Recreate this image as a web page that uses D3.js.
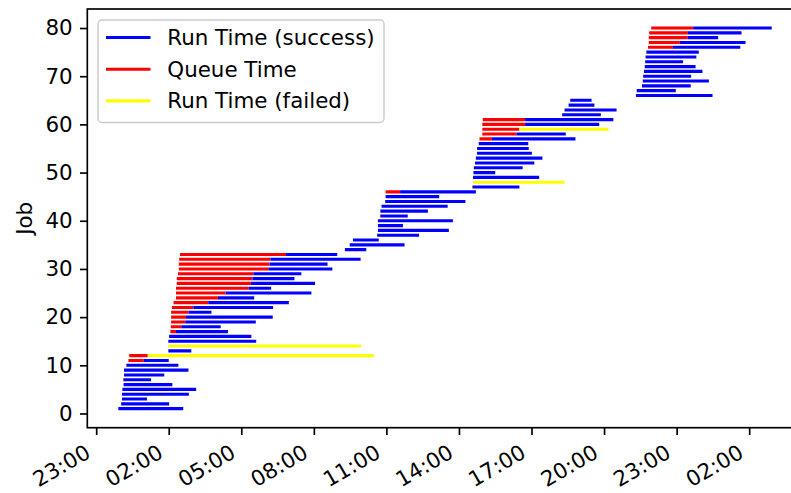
<!DOCTYPE html>
<html>
<head>
<meta charset="utf-8">
<script src="https://cdn.jsdelivr.net/npm/d3@7"></script>
<style>
  body { margin: 0; background: #fff; }
  svg text { font-family: "DejaVu Sans", sans-serif; fill: #000; }
</style>
</head>
<body>
<script>
// job numbers 1..80, times ("month-day hour:minute")
var jobs = d3.range(1, 81);

var queueStart = [
  "03-01 23:55","03-02 00:02","03-02 00:04","03-02 00:04","03-02 00:05","03-02 00:08","03-02 00:07","03-02 00:09","03-02 00:09","03-02 00:15",
  "03-02 00:20","03-02 00:22","03-02 01:59","03-02 01:59","03-02 01:59","03-02 02:01","03-02 02:04","03-02 02:05","03-02 02:06","03-02 02:06",
  "03-02 02:06","03-02 02:08","03-02 02:12","03-02 02:18","03-02 02:18","03-02 02:18","03-02 02:20","03-02 02:20","03-02 02:23","03-02 02:25",
  "03-02 02:25","03-02 02:26","03-02 02:28","03-02 09:17","03-02 09:29","03-02 09:37","03-02 10:37","03-02 10:39","03-02 10:39","03-02 10:39",
  "03-02 10:44","03-02 10:45","03-02 10:48","03-02 10:57","03-02 10:58","03-02 10:58","03-02 14:33","03-02 14:35","03-02 14:35","03-02 14:36",
  "03-02 14:37","03-02 14:40","03-02 14:42","03-02 14:45","03-02 14:45","03-02 14:49","03-02 14:51","03-02 14:58","03-02 14:58","03-02 14:58",
  "03-02 14:59","03-02 18:16","03-02 18:22","03-02 18:32","03-02 18:36","03-02 21:19","03-02 21:21","03-02 21:34","03-02 21:36","03-02 21:37",
  "03-02 21:39","03-02 21:41","03-02 21:42","03-02 21:43","03-02 21:45","03-02 21:49","03-02 21:51","03-02 21:51","03-02 21:52","03-02 21:57"
];

var runStart = [
  "03-01 23:55","03-02 00:02","03-02 00:04","03-02 00:04","03-02 00:05","03-02 00:08","03-02 00:09","03-02 00:09","03-02 00:09","03-02 00:15",
  "03-02 00:58","03-02 01:08","03-02 01:59","03-02 01:59","03-02 01:59","03-02 02:01","03-02 02:18","03-02 02:31","03-02 02:41","03-02 02:43",
  "03-02 02:49","03-02 03:01","03-02 03:38","03-02 04:02","03-02 04:21","03-02 05:18","03-02 05:24","03-02 05:28","03-02 05:30","03-02 06:07",
  "03-02 06:10","03-02 06:12","03-02 06:51","03-02 09:17","03-02 09:29","03-02 09:37","03-02 10:37","03-02 10:39","03-02 10:39","03-02 10:39",
  "03-02 10:46","03-02 10:45","03-02 10:48","03-02 10:57","03-02 10:58","03-02 11:34","03-02 14:35","03-02 14:35","03-02 14:35","03-02 14:36",
  "03-02 14:37","03-02 14:40","03-02 14:42","03-02 14:45","03-02 14:45","03-02 14:49","03-02 15:22","03-02 16:23","03-02 16:30","03-02 16:44",
  "03-02 16:44","03-02 18:16","03-02 18:22","03-02 18:32","03-02 18:36","03-02 21:19","03-02 21:21","03-02 21:34","03-02 21:36","03-02 21:37",
  "03-02 21:39","03-02 21:41","03-02 21:42","03-02 21:43","03-02 21:45","03-02 22:51","03-02 23:08","03-02 23:27","03-02 23:28","03-02 23:41"
];

var runEnd = [
  "03-02 02:36","03-02 02:01","03-02 01:06","03-02 02:50","03-02 03:08","03-02 02:09","03-02 01:16","03-02 01:49","03-02 02:49","03-02 02:24",
  "03-02 02:00","03-02 10:29","03-02 02:56","03-02 09:57","03-02 05:37","03-02 05:25","03-02 04:27","03-02 04:09","03-02 05:36","03-02 06:18",
  "03-02 03:46","03-02 06:19","03-02 06:58","03-02 05:32","03-02 07:54","03-02 06:14","03-02 08:03","03-02 07:12","03-02 07:29","03-02 08:46",
  "03-02 08:34","03-02 09:56","03-02 08:58","03-02 10:10","03-02 11:45","03-02 10:41","03-02 12:21","03-02 13:35","03-02 11:41","03-02 13:45",
  "03-02 11:53","03-02 12:43","03-02 13:32","03-02 14:16","03-02 13:11","03-02 14:42","03-02 16:30","03-02 18:22","03-02 17:19","03-02 15:30",
  "03-02 16:38","03-02 17:07","03-02 17:27","03-02 17:01","03-02 16:53","03-02 16:52","03-02 18:49","03-02 18:25","03-02 20:11","03-02 19:48",
  "03-02 20:23","03-02 19:52","03-02 20:31","03-02 19:36","03-02 19:29","03-03 00:29","03-02 22:58","03-02 23:35","03-03 00:20","03-02 23:36",
  "03-03 00:04","03-02 23:47","03-02 23:16","03-02 23:49","03-02 23:55","03-03 01:38","03-03 01:51","03-03 00:43","03-03 01:41","03-03 02:56"
];

var failedJobs = [12, 14, 48, 59];

var legendLabels = ["Run Time (success)", "Queue Time", "Run Time (failed)"];
var legendColors = ["#0000ff", "#ff0000", "#ffff00"];

var yTicks = [0, 10, 20, 30, 40, 50, 60, 70, 80];

var parseTime = d3.timeParse("%m-%d %H:%M");

var width = 791, height = 493;
var margin = { top: 9, left: 87.3, right: 804, bottom: 427.7 };
var fontSize = 21.4;
var lineW = 3.1;

var data = jobs.map(function(j, i) {
    return {
        job: j,
        queue: parseTime(queueStart[i]),
        start: parseTime(runStart[i]),
        end: parseTime(runEnd[i]),
        failed: failedJobs.indexOf(j) >= 0
    };
});

var xScale = d3.scaleTime()
    .domain([parseTime("03-01 22:38"), parseTime("03-03 04:16")])
    .range([margin.left, margin.right]);

var yScale = d3.scaleLinear()
    .domain([-2.95, 83.95])
    .range([margin.bottom, margin.top]);

var svg = d3.select("body").append("svg")
    .attr("width", width)
    .attr("height", height);

svg.append("defs").append("clipPath").attr("id", "plotClip")
    .append("rect")
    .attr("x", margin.left).attr("y", margin.top)
    .attr("width", margin.right - margin.left)
    .attr("height", margin.bottom - margin.top);

var plot = svg.append("g").attr("clip-path", "url(#plotClip)");

// queue time (red)
plot.selectAll(".queue")
    .data(data.filter(function(d) { return d.start > d.queue; }))
    .enter()
    .append("line")
        .attr("class", "queue")
        .attr("x1", function(d) { return xScale(d.queue); })
        .attr("x2", function(d) { return xScale(d.start); })
        .attr("y1", function(d) { return yScale(d.job); })
        .attr("y2", function(d) { return yScale(d.job); })
        .attr("stroke", legendColors[1])
        .attr("stroke-width", lineW);

// run time (blue / yellow)
plot.selectAll(".run")
    .data(data)
    .enter()
    .append("line")
        .attr("class", "run")
        .attr("x1", function(d) { return xScale(d.start); })
        .attr("x2", function(d) { return xScale(d.end); })
        .attr("y1", function(d) { return yScale(d.job); })
        .attr("y2", function(d) { return yScale(d.job); })
        .attr("stroke", function(d) { return d.failed ? legendColors[2] : legendColors[0]; })
        .attr("stroke-width", lineW);

// axes
var tickLen = 7.3, tickPad = 7.3;
var xTicks = d3.timeHour.range(parseTime("03-01 23:00"), parseTime("03-03 02:30"), 3);

var xAxis = svg.append("g")
    .attr("transform", "translate(0," + margin.bottom + ")")
    .call(d3.axisBottom(xScale)
        .tickValues(xTicks)
        .tickFormat(d3.timeFormat("%H:%M"))
        .tickSize(tickLen));
xAxis.select(".domain").remove();
xAxis.selectAll("line").attr("stroke", "#000").attr("stroke-width", 1.67);
xAxis.selectAll("text")
    .attr("font-size", fontSize)
    .attr("text-anchor", "end")
    .attr("x", -2)
    .attr("y", 0)
    .attr("dy", 0)
    .attr("transform", "translate(-3,28) rotate(-30)");

var yAxis = svg.append("g")
    .attr("transform", "translate(" + margin.left + ",0)")
    .call(d3.axisLeft(yScale).tickValues(yTicks).tickSize(tickLen).tickPadding(tickPad));
yAxis.select(".domain").remove();
yAxis.selectAll("line").attr("stroke", "#000").attr("stroke-width", 1.67);
yAxis.selectAll("text").attr("font-size", fontSize).attr("font-family", "DejaVu Sans");
xAxis.attr("font-family", "DejaVu Sans");

// spines
svg.append("rect")
    .attr("x", margin.left).attr("y", margin.top)
    .attr("width", margin.right - margin.left)
    .attr("height", margin.bottom - margin.top)
    .attr("fill", "none")
    .attr("stroke", "#000")
    .attr("stroke-width", 1.67);

svg.append("text")
    .text("Job")
    .attr("font-size", fontSize)
    .attr("text-anchor", "middle")
    .attr("transform", "translate(32," + ((margin.top + margin.bottom) / 2) + ") rotate(-90)");

// legend
var legend = svg.append("g").attr("transform", "translate(98,20)");
legend.append("rect")
    .attr("width", 286)
    .attr("height", 102.5)
    .attr("rx", 4).attr("ry", 4)
    .attr("fill", "#fff")
    .attr("fill-opacity", 0.8)
    .attr("stroke", "#ccc")
    .attr("stroke-width", 1.5);

var rows = legend.selectAll(".legendRow")
    .data(legendLabels)
    .enter()
    .append("g")
    .attr("class", "legendRow")
    .attr("transform", function(d, i) { return "translate(0," + (17.5 + i * 31.7) + ")"; });

rows.append("line")
    .attr("x1", 8).attr("x2", 52.5)
    .attr("y1", 0).attr("y2", 0)
    .attr("stroke", function(d, i) { return legendColors[i]; })
    .attr("stroke-width", lineW);

rows.append("text")
    .text(function(d) { return d; })
    .attr("x", 69.3)
    .attr("y", 7.5)
    .attr("font-size", fontSize);
</script>
</body>
</html>
